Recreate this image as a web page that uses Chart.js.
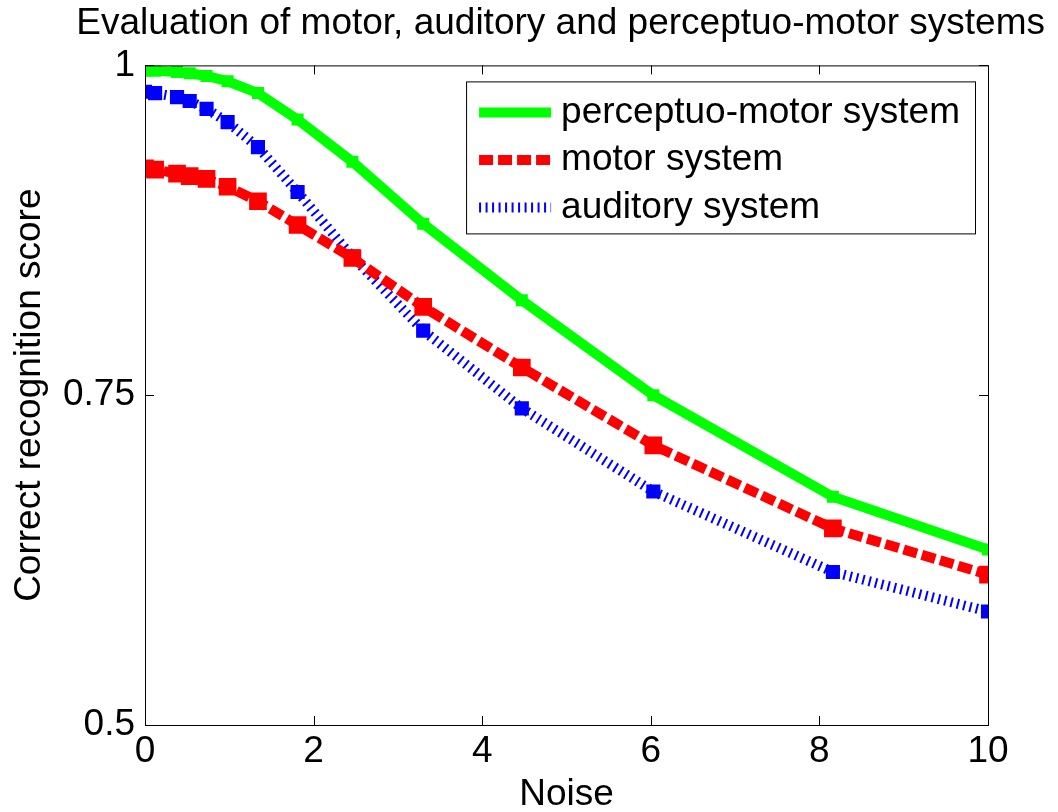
<!DOCTYPE html>
<html>
<head>
<meta charset="utf-8">
<script src="https://cdn.jsdelivr.net/npm/chart.js@4"></script>
<style>
  html, body { margin: 0; padding: 0; background: #fff; }
  #box { width: 1058px; height: 812px; }
</style>
</head>
<body>
<div id="box"><canvas id="evalChart"></canvas></div>
<script>
const noise = [0, 0.12, 0.38, 0.53, 0.73, 0.98, 1.34, 1.81, 2.46, 3.3, 4.47, 6.03, 8.16, 10];
const perceptuoMotor = [0.996, 0.996, 0.995, 0.994, 0.992, 0.988, 0.979, 0.959, 0.927, 0.880, 0.822, 0.750, 0.673, 0.633];
const motor = [0.922, 0.921, 0.918, 0.916, 0.914, 0.908, 0.897, 0.879, 0.854, 0.817, 0.771, 0.712, 0.649, 0.614];
const auditory = [0.980, 0.979, 0.976, 0.973, 0.967, 0.957, 0.938, 0.904, 0.855, 0.799, 0.740, 0.677, 0.616, 0.586];
const seriesNames = ['perceptuo-motor system', 'motor system', 'auditory system'];
const xTicks = [0, 2, 4, 6, 8, 10];
const yTicks = [0.5, 0.75, 1];

const FONT = 'Liberation Sans, Arial, sans-serif';
const FSIZE = 37;

function pts(ys) {
  return noise.map((x, i) => ({ x: x, y: ys[i] }));
}

// MATLAB-like box and inward ticks
const frame = {
  id: 'frame',
  afterDatasetsDraw(chart) {
    const { ctx, chartArea: a, scales } = chart;
    ctx.save();
    ctx.strokeStyle = '#000';
    ctx.lineWidth = 1;
    ctx.strokeRect(a.left + 0.5, a.top + 0.5, a.right - a.left, a.bottom - a.top);
    ctx.beginPath();
    xTicks.forEach(v => {
      const px = Math.round(scales.x.getPixelForValue(v)) + 0.5;
      ctx.moveTo(px, a.bottom); ctx.lineTo(px, a.bottom - 9);
      ctx.moveTo(px, a.top); ctx.lineTo(px, a.top + 9);
    });
    yTicks.forEach(v => {
      const py = Math.round(scales.y.getPixelForValue(v)) + 0.5;
      ctx.moveTo(a.left, py); ctx.lineTo(a.left + 9, py);
      ctx.moveTo(a.right, py); ctx.lineTo(a.right - 9, py);
    });
    ctx.stroke();
    ctx.restore();
  }
};

// legend box inside the axes, top right
const boxLegend = {
  id: 'boxLegend',
  afterDraw(chart) {
    const { ctx, chartArea: a } = chart;
    ctx.save();
    ctx.font = FSIZE + 'px ' + FONT;
    let tw = 0;
    chart.data.datasets.forEach(d => { tw = Math.max(tw, ctx.measureText(d.label).width); });
    const w = 95 + tw + 15, h = 152;
    const x0 = a.right - 13 - w, y0 = a.top + 16;
    ctx.fillStyle = '#fff';
    ctx.fillRect(x0, y0, w, h);
    ctx.strokeStyle = '#000';
    ctx.lineWidth = 1;
    ctx.strokeRect(x0 + 0.5, y0 + 0.5, w, h);
    chart.data.datasets.forEach((d, i) => {
      const y = y0 + 31 + i * 47.5;
      ctx.beginPath();
      ctx.strokeStyle = d.borderColor;
      ctx.lineWidth = d.borderWidth;
      ctx.setLineDash(d.borderDash || []);
      ctx.moveTo(x0 + 13, y); ctx.lineTo(x0 + 85, y);
      ctx.stroke();
      ctx.setLineDash([]);
      ctx.fillStyle = '#000';
      ctx.textBaseline = 'middle';
      ctx.fillText(d.label, x0 + 95, y);
    });
    ctx.restore();
  }
};

new Chart(document.getElementById('evalChart'), {
  type: 'line',
  data: {
    datasets: [{
      label: seriesNames[0],
      data: pts(perceptuoMotor),
      borderColor: '#00ff00',
      backgroundColor: '#00ff00',
      borderWidth: 10,
      pointStyle: 'rect',
      pointRadius: 8.5,
      pointBorderWidth: 0,
      tension: 0
    }, {
      label: seriesNames[1],
      data: pts(motor),
      borderColor: '#ff0000',
      backgroundColor: '#ff0000',
      borderWidth: 10,
      borderDash: [14, 5],
      pointStyle: 'rect',
      pointRadius: 12.5,
      pointBorderWidth: 0,
      tension: 0
    }, {
      label: seriesNames[2],
      data: pts(auditory),
      borderColor: '#0000ff',
      backgroundColor: '#0000ff',
      borderWidth: 10,
      borderDash: [2, 4.5],
      pointStyle: 'rect',
      pointRadius: 10,
      pointBorderWidth: 0,
      tension: 0
    }]
  },
  options: {
    responsive: true,
    maintainAspectRatio: false,
    animation: false,
    layout: { padding: { right: 13, top: 0 } },
    plugins: {
      legend: { display: false },
      tooltip: { enabled: false },
      title: {
        display: true,
        align: 'end',
        text: 'Evaluation of motor, auditory and perceptuo-motor systems',
        color: '#000',
        font: { family: FONT, size: FSIZE, weight: 'normal' },
        padding: { top: 2, bottom: 19 }
      }
    },
    scales: {
      x: {
        type: 'linear',
        min: 0,
        max: 10,
        afterBuildTicks: s => { s.ticks = xTicks.map(v => ({ value: v })); },
        afterFit: s => { s.height = 87; },
        grid: { display: false, drawTicks: false },
        border: { display: false },
        ticks: { color: '#000', font: { family: FONT, size: FSIZE }, padding: 5, maxRotation: 0, callback: v => String(v) },
        title: { display: true, text: 'Noise', color: '#000', font: { family: FONT, size: FSIZE }, padding: { top: 0, bottom: -5 } }
      },
      y: {
        type: 'linear',
        min: 0.5,
        max: 1,
        afterBuildTicks: s => { s.ticks = yTicks.map(v => ({ value: v })); },
        afterFit: s => { s.width = 145; },
        grid: { display: false, drawTicks: false },
        border: { display: false },
        ticks: { color: '#000', font: { family: FONT, size: FSIZE }, padding: 10, callback: v => String(v) },
        title: { display: true, text: 'Correct recognition score', color: '#000', font: { family: FONT, size: FSIZE }, padding: { top: 8, bottom: 0 } }
      },
      // empty margin on the right, like the MATLAB figure
      yRight: {
        type: 'linear',
        position: 'right',
        min: 0.5,
        max: 1,
        afterFit: s => { s.width = 57; },
        grid: { display: false, drawTicks: false },
        border: { display: false },
        ticks: { display: false }
      }
    }
  },
  plugins: [frame, boxLegend]
});
</script>
</body>
</html>
